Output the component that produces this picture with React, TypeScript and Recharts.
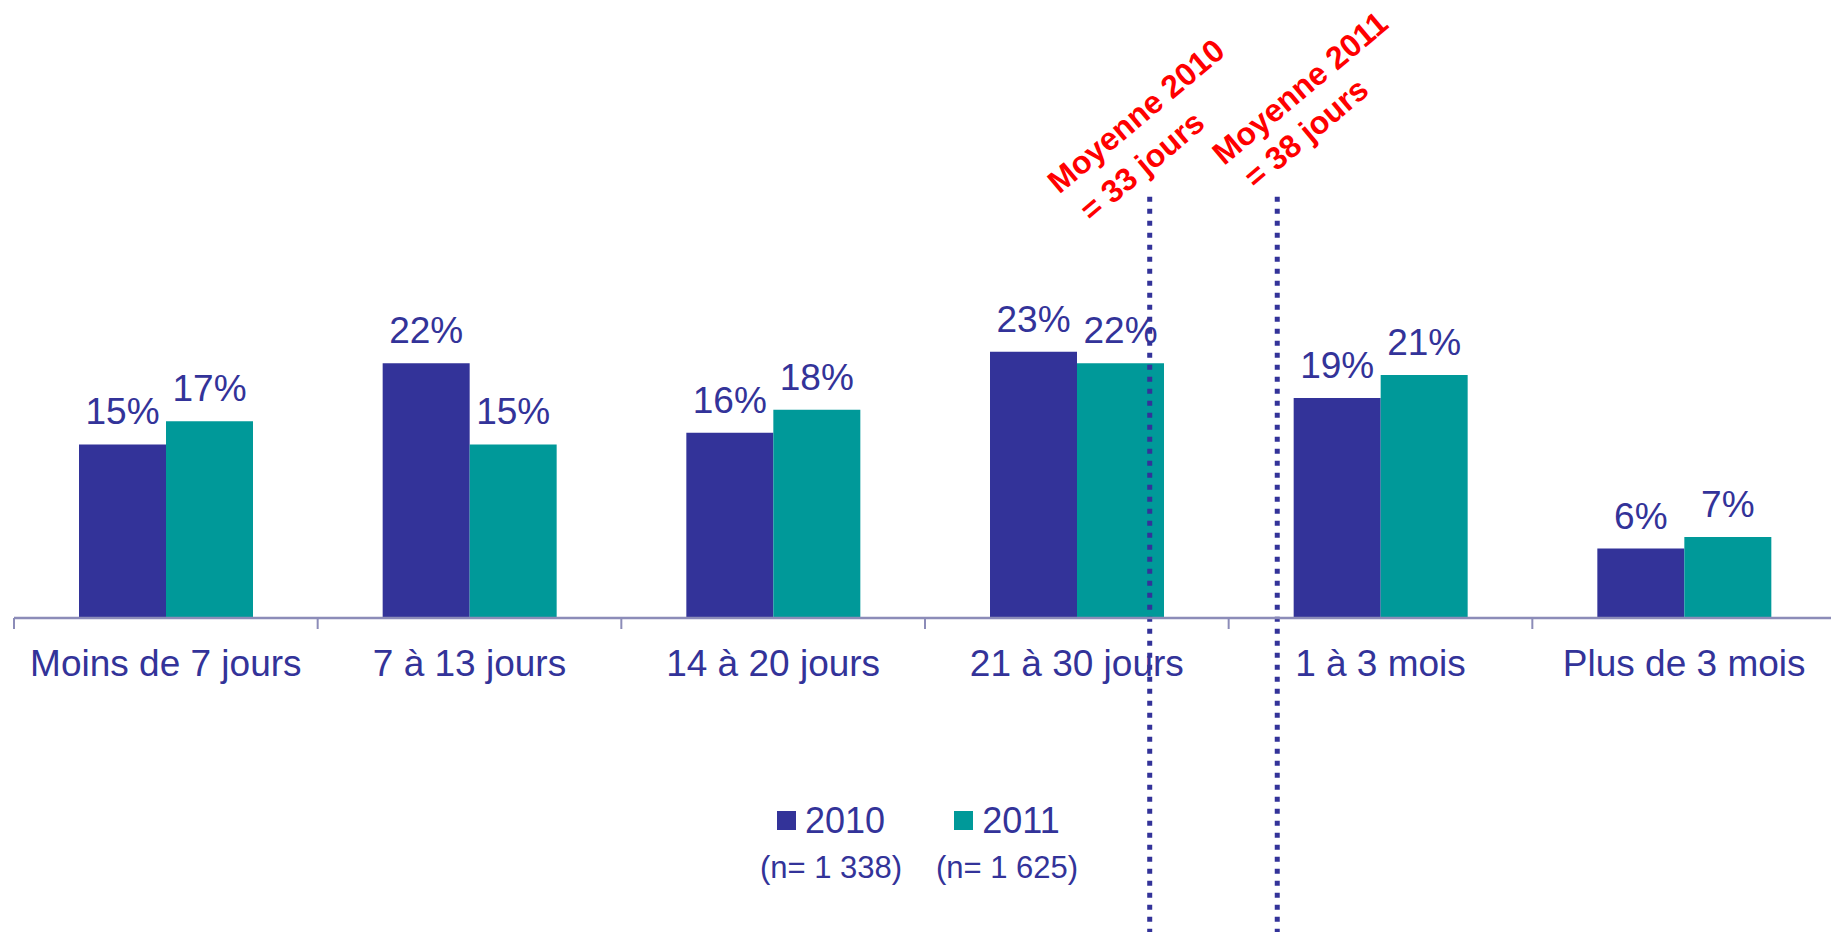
import React from 'react'
import { BarChart, Bar, XAxis, YAxis, LabelList, ReferenceLine } from 'recharts'

const categories = ['Moins de 7 jours', '7 à 13 jours', '14 à 20 jours', '21 à 30 jours', '1 à 3 mois', 'Plus de 3 mois']
const values2010 = [15, 22, 16, 23, 19, 6]
const values2011 = [17, 15, 18, 22, 21, 7]
const seriesNames = ['2010', '2011']
const sampleSizes = ['(n= 1 338)', '(n= 1 625)']
// where the two averages sit on the category axis, in category units (0..6)
const meanPositions = [3.74, 4.16]

const BLUE = '#333399'
const TEAL = '#009999'
const RED = '#ff0000'
const FONT = '"Liberation Sans", Arial, Helvetica, sans-serif'

const CHART_W = 1840
const CHART_H = 932
const MARGIN = { top: 155, right: 4, bottom: 284, left: 14 }
const PLOT_W = CHART_W - MARGIN.left - MARGIN.right
const BAND = PLOT_W / categories.length

const data = categories.map((name, i) => ({ name, y2010: values2010[i], y2011: values2011[i] }))

function ValueLabel(props: any) {
  const { x, y, width, value } = props
  return (
    <text x={x + width / 2} y={y - 20} textAnchor="middle" fontSize={37} fill={BLUE} fontFamily={FONT}>
      {value}%
    </text>
  )
}

function CategoryTick(props: any) {
  const { x, y, payload } = props
  const left = x - BAND / 2
  return (
    <g>
      <line x1={left} y1={y} x2={left} y2={y + 11} stroke="#8c8cb8" strokeWidth={2} />
      <text x={x} y={y + 45} textAnchor="middle" dominantBaseline="central" fontSize={37} fill={BLUE} fontFamily={FONT}>
        {payload.value}
      </text>
    </g>
  )
}

// dotted line, shifted inside its category band by the fractional part
const meanLineShape = (frac: number) => (props: any) => {
  const { x1, y1, x2, y2 } = props
  const dx = frac * BAND
  return (
    <line x1={x1 + dx} y1={y1} x2={x2 + dx} y2={y2} stroke={BLUE} strokeWidth={5} strokeDasharray="5 7" />
  )
}

const annotations = [
  { lines: ['Moyenne 2010', '= 33 jours'], centers: [[1136, 116], [1142, 166]] },
  { lines: ['Moyenne 2011', '= 38 jours'], centers: [[1300, 88], [1306, 133]] },
]

export default function App() {
  const colors = [BLUE, TEAL]
  return (
    <div style={{ position: 'absolute', left: 0, top: 0, width: 1831, height: 932, overflow: 'hidden', background: '#fff', fontFamily: FONT }}>
      <BarChart width={CHART_W} height={CHART_H} data={data} margin={MARGIN} barGap={0}>
        <XAxis
          dataKey="name"
          height={30}
          tickLine={false}
          tickSize={0}
          tickMargin={0}
          interval={0}
          axisLine={{ stroke: '#8c8cb8', strokeWidth: 2.5 }}
          tick={<CategoryTick />}
        />
        <YAxis hide domain={[0, 40]} />
        <Bar dataKey="y2010" name="2010" fill={BLUE} barSize={87} isAnimationActive={false}>
          <LabelList dataKey="y2010" content={<ValueLabel />} />
        </Bar>
        <Bar dataKey="y2011" name="2011" fill={TEAL} barSize={87} isAnimationActive={false}>
          <LabelList dataKey="y2011" content={<ValueLabel />} />
        </Bar>
        {meanPositions.map((m, i) => {
          const cat = categories[Math.floor(m)]
          return (
            <ReferenceLine
              key={i}
              position="start"
              segment={[{ x: cat, y: 36.4 }, { x: cat, y: -28 }]}
              ifOverflow="visible"
              stroke={BLUE}
              shape={meanLineShape(m - Math.floor(m))}
            />
          )
        })}
      </BarChart>

      <svg width={1831} height={932} style={{ position: 'absolute', left: 0, top: 0, pointerEvents: 'none' }}>
        {annotations.map((a, i) =>
          a.lines.map((t, j) => (
            <text
              key={`${i}-${j}`}
              x={a.centers[j][0]}
              y={a.centers[j][1]}
              transform={`rotate(-40 ${a.centers[j][0]} ${a.centers[j][1]})`}
              textAnchor="middle"
              dominantBaseline="central"
              fontSize={32}
              fontWeight="bold"
              fill={RED}
              fontFamily={FONT}
            >
              {t}
            </text>
          ))
        )}
      </svg>

      <div style={{ position: 'absolute', left: 743, top: 797, width: 352, display: 'flex', color: BLUE }}>
        {seriesNames.map((s, i) => (
          <div key={s} style={{ width: 176, display: 'flex', flexDirection: 'column', alignItems: 'center' }}>
            <div style={{ display: 'flex', alignItems: 'center', height: 47 }}>
              <span style={{ width: 19, height: 19, background: colors[i], display: 'inline-block', marginRight: 9 }} />
              <span style={{ fontSize: 36, lineHeight: '47px' }}>{s}</span>
            </div>
            <div style={{ fontSize: 31, lineHeight: '47px' }}>{sampleSizes[i]}</div>
          </div>
        ))}
      </div>
    </div>
  )
}
